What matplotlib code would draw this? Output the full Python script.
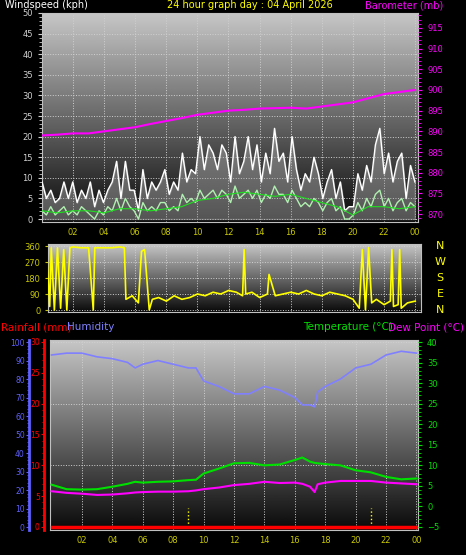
import numpy as np
import matplotlib.pyplot as plt
from matplotlib.ticker import MultipleLocator

W, H = 466, 555

# ---- data ----
gust = [9, 5, 7, 4, 5, 9, 5, 9, 4, 7, 5, 9,
        3, 7, 4, 7, 9, 14, 5, 14, 7, 7, 2, 12,
        5, 9, 7, 9, 12, 6, 9, 7, 16, 9, 12, 11,
        20, 12, 18, 16, 12, 18, 16, 9, 20, 11, 14, 20,
        12, 18, 9, 16, 11, 22, 14, 16, 9, 20, 12, 7,
        11, 9, 15, 11, 5, 9, 12, 5, 9, 2, 3, 3,
        11, 7, 13, 9, 18, 22, 11, 16, 9, 14, 16, 5, 13, 9]
avg = [2, 1, 3, 1, 2, 3, 1, 2, 1, 3, 2, 1,
       0, 2, 1, 3, 2, 5, 2, 5, 3, 2, 0, 4,
       2, 3, 2, 4, 4, 2, 3, 2, 6, 4, 5, 4,
       7, 5, 6, 7, 5, 7, 6, 4, 8, 5, 6, 7,
       5, 7, 4, 6, 5, 8, 6, 6, 4, 7, 5, 3,
       4, 3, 5, 4, 2, 4, 5, 2, 3, 0, 0, 1,
       4, 2, 5, 3, 6, 7, 3, 5, 2, 4, 5, 2, 4, 3]
t_wind = np.linspace(0, 24, len(gust))
t_sm = np.arange(0, 24.5, 1.0)
avg_sm = [2, 1.5, 2, 2, 1.5, 2.5, 2.5, 2, 2.5, 3, 4.5, 5,
          6, 6.5, 6, 5.5, 6, 5, 4, 3, 1, 3, 3, 2.5, 3]

t_dir = [0, .2, .3, .5, .6, .8, 1, 1.2, 1.4, 1.6, 1.8, 2, 2.5, 3, 3.3, 3.4,
         4, 4.5, 5, 5.3, 5.4, 5.8, 6.2, 6.4, 6.6, 6.9, 7.1, 7.5, 8, 8.5, 9,
         9.5, 10, 10.5, 11, 11.5, 12, 12.5, 12.9, 13, 13.1, 13.5, 14, 14.5,
         14.6, 15, 15.5, 16, 16.5, 17, 17.5, 18, 18.5, 19, 19.5, 20, 20.4,
         20.6, 20.8, 21, 21.2, 21.5, 22, 22.4, 22.5, 22.6, 22.9, 23, 23.1,
         23.5, 24]
wdir = [30, 80, 340, 20, 350, 0, 350, 10, 340, 0, 350, 355, 350, 350, 0, 350,
        350, 350, 355, 350, 60, 80, 40, 330, 340, 0, 60, 70, 50, 80, 60,
        70, 90, 80, 100, 90, 110, 100, 80, 340, 90, 100, 70, 90,
        200, 80, 90, 100, 90, 110, 90, 80, 100, 90, 80, 60, 10,
        340, 0, 350, 40, 60, 30, 50, 340, 20, 30, 340, 10,
        40, 50]

t_hr = np.arange(0, 25, 1.0)
baro = [889, 889.2, 889.5, 889.5, 890, 890.5, 891, 891.8, 892.5, 893.2, 894,
        894.5, 895, 895.2, 895.5, 895.6, 895.7, 895.5, 896, 896.5, 897,
        898, 899, 899.5, 900]

t_th = [0, 1, 2, 3, 4, 5, 5.5, 6, 7, 8, 9, 9.5, 10, 11, 12, 13, 14, 15, 16,
        16.5, 17, 17.3, 17.5, 18, 19, 20, 21, 22, 23, 24]
hum = [93, 94, 94, 92, 91, 89, 86, 88, 90, 88, 86, 86, 79, 76, 72, 72, 76,
       74, 70, 66, 66, 65, 73, 76, 80, 86, 88, 93, 95, 94]
temp = [5.3, 4.2, 4.1, 4.2, 4.8, 5.5, 6, 5.8, 6, 6.1, 6.4, 6.5, 8, 9.2, 10.5,
        10.6, 10, 10.2, 11.3, 11.9, 10.9, 10.6, 10.5, 10.3, 10, 8.8, 8.3, 7.2,
        6.6, 6.8]
dew = [3.7, 3.3, 3.1, 2.8, 2.9, 3.2, 3.4, 3.5, 3.6, 3.6, 3.7, 3.9, 4.2, 4.6,
       5.2, 5.5, 6, 5.7, 5.8, 5.5, 4.8, 3.5, 5.4, 5.8, 6.2, 6.2, 6.2, 5.8,
       5.6, 5.4]
rain = np.zeros(25)

hour_ticks = np.arange(2, 25, 2)
hour_labels = ['%02d' % (h % 24) for h in hour_ticks]

XCOL = '#c8c800'


def fpos(x0, y0, x1, y1):
    return [x0 / W, 1 - y1 / H, (x1 - x0) / W, (y1 - y0) / H]


def shade(ax):
    g = np.linspace(0, 1, 256).reshape(-1, 1)
    ax.imshow(g, cmap='gray', aspect='auto', extent=[0, 1, 0, 1], origin='lower',
              transform=ax.transAxes, zorder=0, vmin=-0.05, vmax=1.3)
    ax.grid(True, color='#d0d0d0', ls=':', lw=0.7, zorder=1)
    for s in ax.spines.values():
        s.set_color('#c0c0c0')


plt.rcParams['font.family'] = 'DejaVu Sans'
fig = plt.figure(figsize=(W / 100, H / 100), dpi=100, facecolor='black')

# ---- top: wind + baro ----
ax = fig.add_axes(fpos(42, 13, 418, 222))
shade(ax)
ax.set_xlim(0, 24.2)
ax.set_ylim(-0.72, 49.8)
ax.fill_between(t_wind, 0, gust, color='#b0b0b0', alpha=0.45, zorder=2)
ax.plot(t_wind, gust, color='white', lw=1.0, zorder=3)
ax.plot(t_wind, avg, color='#b0f0b0', lw=1.0, zorder=4)
ax.plot(t_sm, avg_sm, color='#20e020', lw=0.8, zorder=5)
ax.set_yticks(np.arange(0, 51, 5))
ax.yaxis.set_minor_locator(MultipleLocator(1))
ax.set_xticks(hour_ticks)
ax.set_xticklabels(hour_labels)
ax.tick_params(axis='y', colors='#d0d0d0', labelsize=6, length=3)
ax.tick_params(axis='y', which='minor', colors='#d0d0d0', length=2)
ax.tick_params(axis='x', colors=XCOL, labelsize=6, length=0, pad=4)
axb = ax.twinx()
axb.set_ylim(868.08, 918.6)
axb.plot(t_hr, baro, color='#ff00ff', lw=1.5, zorder=6)
axb.set_yticks(np.arange(870, 916, 5))
axb.yaxis.set_minor_locator(MultipleLocator(1))
axb.tick_params(colors='#ff00ff', labelsize=6, length=3)
axb.tick_params(which='minor', colors='#ff00ff', length=2)
for s in axb.spines.values():
    s.set_visible(False)

fig.text(5 / W, 1 - 5 / H, 'Windspeed (kph)', color='white', fontsize=7, va='center')
fig.text(250 / W, 1 - 5 / H, '24 hour graph day : 04 April 2026', color='yellow',
         fontsize=7, va='center', ha='center')
fig.text(443 / W, 1 - 5 / H, 'Barometer (mb)', color='#ff00ff', fontsize=7,
         va='center', ha='right')

# ---- middle: wind direction ----
ad = fig.add_axes(fpos(48, 244, 421, 312))
shade(ad)
ad.set_xlim(0.39, 24.37)
ad.set_ylim(-11.25, 371.25)
ad.plot(t_dir, wdir, color='yellow', lw=1.2, zorder=3)
ad.set_yticks([0, 90, 180, 270, 360])
ad.set_xticks(hour_ticks)
ad.tick_params(axis='x', length=0, labelbottom=False)
ad.tick_params(axis='y', colors=XCOL, labelsize=6, length=2)
for i, c in enumerate('NWSEN'):
    fig.text(440 / W, 1 - (246 + i * 16) / H, c, color='yellow', fontsize=8,
             va='center', ha='center')

# ---- bottom: rain / humidity / temp / dew ----
ar = fig.add_axes(fpos(50, 340, 418, 530))
shade(ar)
ar.set_xlim(-0.1, 24.1)
ar.set_ylim(-0.49, 30.32)
ar.plot(t_hr, rain, color='#ff0000', lw=2.5, zorder=6)
ar.vlines([9, 21], 0, 3, colors='yellow', linestyles=':', lw=1, zorder=5)
ar.set_xticks(hour_ticks)
ar.set_xticklabels(hour_labels)
ar.tick_params(axis='x', colors=XCOL, labelsize=6, length=0, pad=4)
ar.tick_params(axis='y', left=False, labelleft=False)

ah = ar.twinx()
ah.set_ylim(-1.6, 101.1)
ah.plot(t_th, hum, color='#8080ff', lw=1.2, zorder=3)
ah.set_yticks([])
for s in ah.spines.values():
    s.set_visible(False)

at = ar.twinx()
at.set_ylim(-5.73, 40.49)
at.plot(t_th, temp, color='#00e000', lw=1.5, zorder=4)
at.plot(t_th, dew, color='#ff00ff', lw=1.5, zorder=4)
at.set_yticks(np.arange(-5, 41, 5))
at.yaxis.set_minor_locator(MultipleLocator(1))
at.tick_params(colors='#00e000', labelsize=6, length=3)
at.tick_params(which='minor', colors='#00e000', length=2)
for s in at.spines.values():
    s.set_visible(False)

# separate scale axes for humidity and rain
for xpx, lim, ticks, col in [(29, (-1.6, 101.1), np.arange(0, 101, 10), '#6060ff'),
                             (44, (-0.49, 30.32), np.arange(0, 31, 5), '#ff0000')]:
    s_ax = fig.add_axes(fpos(xpx, 340, xpx + 1, 530))
    s_ax.set_facecolor('none')
    s_ax.set_ylim(*lim)
    s_ax.set_xticks([])
    s_ax.set_yticks(ticks)
    s_ax.yaxis.set_minor_locator(MultipleLocator(ticks[1] / 5))
    for k, s in s_ax.spines.items():
        s.set_visible(k == 'left')
    s_ax.spines['left'].set_color(col)
    s_ax.spines['left'].set_linewidth(2)
    s_ax.tick_params(colors=col, labelsize=5.5, length=2.5, pad=0.5)
    s_ax.tick_params(which='minor', colors=col, length=1.5)

fig.text(1 / W, 1 - 327 / H, 'Rainfall (mm)', color='#ff0000', fontsize=7.5, va='center')
fig.text(67 / W, 1 - 327 / H, 'Humidity', color='#8080ff', fontsize=7.5, va='center')
fig.text(393 / W, 1 - 327 / H, 'Temperature (°C)', color='#00e000', fontsize=7.5,
         va='center', ha='right')
fig.text(464 / W, 1 - 327 / H, 'Dew Point (°C)', color='#ff00ff', fontsize=7.5,
         va='center', ha='right')

fig.savefig('out.png', dpi=100, facecolor='black')
